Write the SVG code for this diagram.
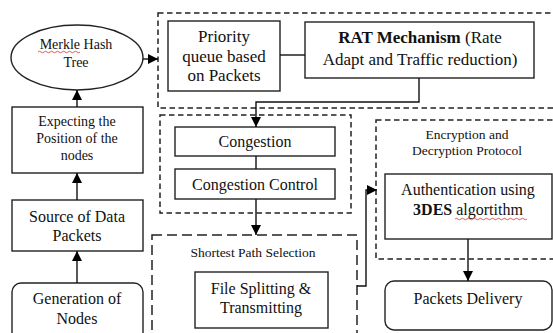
<svg xmlns="http://www.w3.org/2000/svg" width="553" height="333" viewBox="0 0 553 333">
<defs>
<marker id="ah" viewBox="0 0 10 10" refX="10" refY="5" markerWidth="10" markerHeight="10" markerUnits="userSpaceOnUse" orient="auto">
<path d="M0,0 L10,5 L0,10 Z" fill="#000"/>
</marker>
</defs>
<style>
.box{fill:#fff;stroke:#222;stroke-width:1.4}
.dash{fill:none;stroke:#222;stroke-width:1.5;stroke-dasharray:5.5 3.5}
.ldash{fill:none;stroke:#222;stroke-width:1.5;stroke-dasharray:10 5}
.ln{fill:none;stroke:#111;stroke-width:1.4}
.arr{fill:none;stroke:#111;stroke-width:1.4;marker-end:url(#ah)}
text{font-family:'Liberation Serif','Times New Roman',Tinos,'DejaVu Serif',serif;fill:#111;text-anchor:middle}
.t16{font-size:16px}
.t17{font-size:17px}
.t14{font-size:14px}
.t13{font-size:13.5px}
.b{font-weight:bold}
.sq{fill:none;stroke:#e03030;stroke-width:0.8}
</style>
<rect width="553" height="333" fill="#fff"/>

<g id="groups">
<rect class="dash" x="158" y="13" width="420" height="95"/>
<rect class="dash" x="160" y="115" width="191" height="98"/>
<rect class="dash" x="376" y="120" width="200" height="139"/>
<rect class="ldash" x="152" y="235" width="205" height="120"/>
</g>

<g id="merkle" font-family="Liberation Serif, serif">
<ellipse class="box" cx="77" cy="57.5" rx="66" ry="32.5"/>
<text class="t14" x="76" y="49">Merkle Hash</text>
<text class="t14" x="76" y="67">Tree</text>
<path class="sq" d="M38,52 q1.5,-1.5 3,0 t3,0 t3,0 t3,0 t3,0 t3,0 t3,0 t3,0 t3,0 t3,0 t3,0 t3,0 t3,0 t3,0"/>
</g>

<g id="expecting">
<rect class="box" x="12" y="107" width="131" height="66"/>
<text class="t14" x="77" y="126">Expecting the</text>
<text class="t14" x="77" y="143">Position of the</text>
<text class="t14" x="77" y="160">nodes</text>
</g>

<g id="source">
<rect class="box" x="12" y="200" width="131" height="51"/>
<text class="t16" x="77" y="222">Source of Data</text>
<text class="t16" x="77" y="241">Packets</text>
</g>

<g id="generation">
<rect class="box" x="12" y="283" width="131" height="60" rx="9"/>
<text class="t16" x="77" y="304">Generation of</text>
<text class="t16" x="77" y="324">Nodes</text>
</g>

<g id="priority">
<rect class="box" x="168" y="21" width="112" height="70"/>
<text class="t17" x="224" y="42">Priority</text>
<text class="t17" x="224" y="62">queue based</text>
<text class="t17" x="224" y="81">on Packets</text>
</g>

<g id="rat">
<rect class="box" x="305" y="22" width="229" height="56"/>
<text class="t17" x="420" y="43"><tspan class="b">RAT Mechanism</tspan> (Rate</text>
<text class="t17" x="420" y="65">Adapt and Traffic reduction)</text>
</g>

<g id="congestion">
<rect class="box" x="175" y="127" width="160" height="29"/>
<text class="t16" x="255" y="147">Congestion</text>
</g>

<g id="congestion-control">
<rect class="box" x="175" y="169" width="160" height="30"/>
<text class="t16" x="255" y="190">Congestion Control</text>
</g>

<g id="shortest-path">
<text class="t13" x="253" y="257">Shortest Path Selection</text>
</g>

<g id="file-splitting">
<rect class="box" x="195" y="272" width="133" height="56"/>
<text class="t16" x="261" y="294">File Splitting &amp;</text>
<text class="t16" x="261" y="313">Transmitting</text>
</g>

<g id="encryption">
<text class="t13" x="467" y="139">Encryption and</text>
<text class="t13" x="467" y="155">Decryption Protocol</text>
</g>

<g id="authentication">
<rect class="box" x="385" y="174" width="167" height="65"/>
<text class="t16" x="468" y="195">Authentication using</text>
<text class="t16" x="468" y="215"><tspan class="b">3DES</tspan> algortithm</text>
<path class="sq" d="M455,219 q1.5,-1.5 3,0 t3,0 t3,0 t3,0 t3,0 t3,0 t3,0 t3,0 t3,0 t3,0 t3,0 t3,0 t3,0 t3,0 t3,0 t3,0 t3,0 t3,0 t3,0 t3,0 t3,0 t3,0 t3,0 t3,0"/>
</g>

<g id="packets-delivery">
<rect class="box" x="385" y="281" width="167" height="49" rx="9"/>
<text class="t16" x="468" y="304">Packets Delivery</text>
</g>

<g id="connectors">
<path class="arr" d="M77,283 V251"/>
<path class="arr" d="M77,200 V173"/>
<path class="arr" d="M77,107 V90"/>
<path class="arr" d="M143,59 H158"/>
<path class="ln" d="M280,55 H305"/>
<path class="arr" d="M419,78 V102 H256 V127"/>
<path class="ln" d="M256,156 V169"/>
<path class="arr" d="M256,199 V235"/>
<path class="arr" d="M357,286 H366 V190 H377"/>
<path class="arr" d="M468,239 V281"/>
</g>
</svg>
